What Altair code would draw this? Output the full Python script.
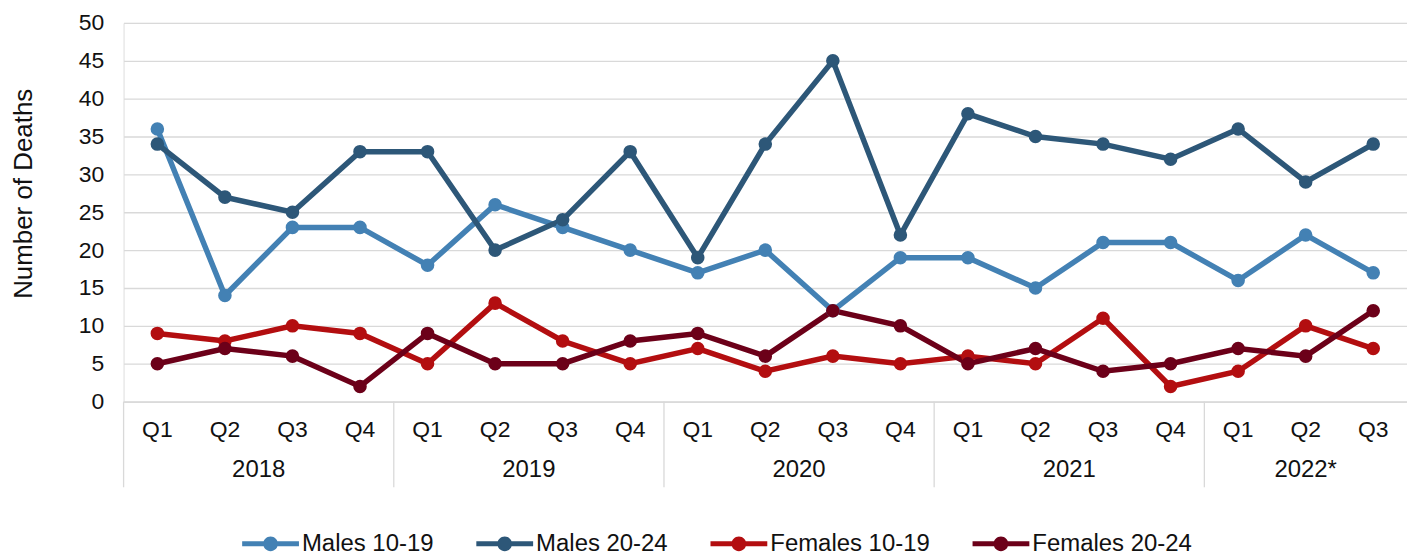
import altair as alt
import pandas as pd

# ---- data ----
years = ["2018", "2019", "2020", "2021", "2022*"]
quarters_per_year = [4, 4, 4, 4, 3]
quarter_names = ["Q1", "Q2", "Q3", "Q4"]

series_names = ["Males 10-19", "Males 20-24", "Females 10-19", "Females 20-24"]
males_10_19 = [36, 14, 23, 23, 18, 26, 23, 20, 17, 20, 12, 19, 19, 15, 21, 21, 16, 22, 17]
males_20_24 = [34, 27, 25, 33, 33, 20, 24, 33, 19, 34, 45, 22, 38, 35, 34, 32, 36, 29, 34]
females_10_19 = [9, 8, 10, 9, 5, 13, 8, 5, 7, 4, 6, 5, 6, 5, 11, 2, 4, 10, 7]
females_20_24 = [5, 7, 6, 2, 9, 5, 5, 8, 9, 6, 12, 10, 5, 7, 4, 5, 7, 6, 12]
colors = ["#4381b4", "#2d5778", "#b30e10", "#6c0019"]
y_ticks = list(range(0, 51, 5))

# ---- build tables ----
cats = []
for yr, n in zip(years, quarters_per_year):
    for q in quarter_names[:n]:
        cats.append(f"{yr} {q}")

rows = []
for name, vals in zip(series_names,
                      [males_10_19, males_20_24, females_10_19, females_20_24]):
    for c, v in zip(cats, vals):
        rows.append({"cat": c, "series": name, "value": v})
df = pd.DataFrame(rows)

year_starts = pd.DataFrame({"cat": [f"{y} Q1" for y in years]})
full_years = pd.DataFrame({"cat": [f"{y} Q2" for y, n in zip(years, quarters_per_year) if n == 4],
                           "label": [y for y, n in zip(years, quarters_per_year) if n == 4]})
part_years = pd.DataFrame({"cat": [f"{y} Q2" for y, n in zip(years, quarters_per_year) if n != 4],
                           "label": [y for y, n in zip(years, quarters_per_year) if n != 4]})

W, H = 1288, 380
FONT = "Liberation Sans"
GRID = "#d9d9d9"

xscale = alt.Scale(type="band", domain=cats, paddingInner=0, paddingOuter=0)
xaxis = alt.Axis(title=None, labelExpr="split(datum.label, ' ')[1]", labelAngle=0,
                 ticks=False, domain=True, domainColor=GRID, domainWidth=1.3,
                 labelPadding=28, labelBaseline="middle", labelFontSize=23,
                 labelColor="#111111", labelFont=FONT, grid=False)
yaxis = alt.Axis(title="Number of Deaths", values=y_ticks, grid=True, gridColor=GRID,
                 gridWidth=1.3, domain=False, ticks=False, labelPadding=20,
                 labelFontSize=23, labelColor="#111111", labelFont=FONT,
                 titleFontSize=26, titleFontWeight="normal", titleColor="#111111",
                 titleFont=FONT, titleX=-87, titleY=171)
yscale = alt.Scale(domain=[0, 50], nice=False)
cscale = alt.Scale(domain=series_names, range=colors)

legend_path = ("M-1,-0.088L1,-0.088L1,0.088L-1,0.088Z "
               "M0.26,0A0.26,0.26 0 1 1 -0.26,0A0.26,0.26 0 1 1 0.26,0Z")
legend = alt.Legend(orient="none", legendX=119, legendY=494, direction="horizontal",
                    title=None, symbolType=legend_path, symbolSize=3249,
                    symbolStrokeWidth=0, symbolOpacity=1, labelFontSize=24,
                    labelFont=FONT, labelColor="#111111", labelOffset=3,
                    columnPadding=42, labelLimit=300)

base = alt.Chart(df).encode(
    x=alt.X("cat:N", scale=xscale, axis=xaxis, sort=None),
    y=alt.Y("value:Q", scale=yscale, axis=yaxis),
)

lines = base.mark_line(strokeWidth=5.5).encode(
    color=alt.Color("series:N", scale=cscale, legend=legend),
)
points = base.mark_point(filled=True, size=185, opacity=1).encode(
    color=alt.Color("series:N", scale=cscale, legend=legend),
)

dividers = alt.Chart(year_starts).mark_rule(color=GRID, strokeWidth=1.3).encode(
    x=alt.X("cat:N", scale=xscale, bandPosition=0),
    y=alt.value(H),
    y2=alt.value(H + 86),
)

year_full = alt.Chart(full_years).mark_text(
    fontSize=24, font=FONT, color="#111111", baseline="middle", align="center"
).encode(
    x=alt.X("cat:N", scale=xscale, bandPosition=1),
    y=alt.value(H + 69),
    text="label:N",
)
year_part = alt.Chart(part_years).mark_text(
    fontSize=24, font=FONT, color="#111111", baseline="middle", align="center"
).encode(
    x=alt.X("cat:N", scale=xscale, bandPosition=0.5),
    y=alt.value(H + 69),
    text="label:N",
)

chart = alt.layer(lines, points, dividers, year_full, year_part).properties(
    width=W, height=H,
    padding={"left": 3, "top": 3, "right": 0, "bottom": 0},
).configure_view(stroke=None).configure(font=FONT)

chart.save("out.html", embed_options={"renderer": "svg", "actions": False})
